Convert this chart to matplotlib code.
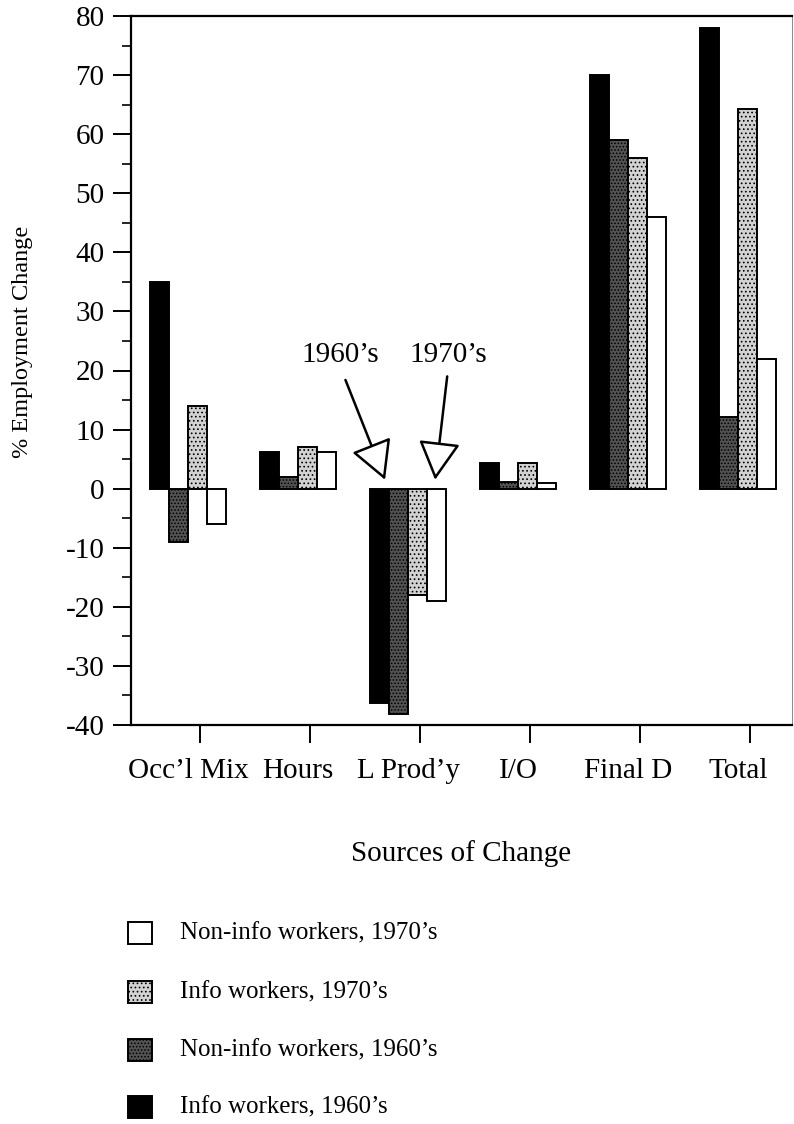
import matplotlib
matplotlib.use("Agg")
import matplotlib.pyplot as plt
from matplotlib.patches import Rectangle
import numpy as np

# data
sources = ["Occ\u2019l Mix", "Hours", "L Prod\u2019y", "I/O", "Final D", "Total"]
info_1960 = [35, 6.2, -36.2, 4.4, 70, 78]
noninfo_1960 = [-9, 2, -38.2, 1.2, 59, 12.2]
info_1970 = [14, 7, -18, 4.4, 56, 64.3]
noninfo_1970 = [-6, 6.2, -19, 0.9, 46, 22]

# (label, values, face colour, hatch)
series = [
    ("Info workers, 1960\u2019s", info_1960, "black", None),
    ("Non-info workers, 1960\u2019s", noninfo_1960, "#525252", "....."),
    ("Info workers, 1970\u2019s", info_1970, "#d2d2d2", "...."),
    ("Non-info workers, 1970\u2019s", noninfo_1970, "white", None),
]

plt.rcParams['font.family'] = ['Liberation Serif', 'DejaVu Serif']
plt.rcParams['axes.unicode_minus'] = False
plt.rcParams['hatch.linewidth'] = 0.7

W, H = 794, 1124
fig = plt.figure(figsize=(W / 100, H / 100), dpi=100)
ax = fig.add_axes([131 / W, 1 - 725 / H, (792 - 131) / W, (725 - 16) / H])

x = np.arange(len(sources))
bw = 0.172
for k, (label, vals, col, hatch) in enumerate(series):
    ax.bar(x + (k - 1.5) * bw, vals, bw, color=col, edgecolor="black",
           hatch=hatch, linewidth=1.4, zorder=2)

ax.set_xlim(-0.52, 5.49)
ax.set_ylim(-40, 80)
ax.set_yticks(np.arange(-40, 81, 10))
ax.set_yticks(np.arange(-35, 80, 10), minor=True)
ax.tick_params(axis='y', which='major', length=13, width=1.4, labelsize=21, pad=6)
ax.tick_params(axis='y', which='minor', length=6.5, width=1.2)

# labels at group centres, tick marks slightly to the right (as in the original)
ax.set_xticks(x)
ax.set_xticklabels(sources)
ax.tick_params(axis='x', which='major', length=0, labelsize=21, pad=24)
ax.set_xticks(x + 0.11, minor=True)
ax.tick_params(axis='x', which='minor', length=13, width=1.4)

for s in ["left", "bottom", "top"]:
    ax.spines[s].set_linewidth(1.6)
ax.spines["right"].set_linewidth(0.6)
ax.spines["right"].set_color("#777777")

ax.set_ylabel("% Employment Change", fontsize=17.5)
ax.yaxis.set_label_coords(-0.148, 0.54)
ax.set_xlabel("Sources of Change", fontsize=21, labelpad=40)

# decade arrows
arrow = dict(arrowstyle="-|>,head_length=1.1,head_width=0.6", mutation_scale=22,
             fc="white", ec="black", lw=1.8, shrinkA=0, shrinkB=0)
ax.annotate("", xy=(1.79, 1.5), xytext=(1.43, 18.4), arrowprops=arrow, zorder=3)
ax.annotate("", xy=(2.245, 1.5), xytext=(2.355, 19), arrowprops=arrow, zorder=3)
ax.text(1.38, 22.7, "1960\u2019s", fontsize=21, ha="center", va="center")
ax.text(2.36, 22.7, "1970\u2019s", fontsize=21, ha="center", va="center")

# legend, drawn below the plot
legend_y = [933, 992, 1050, 1107]
for (label, vals, col, hatch), yc in zip(series[::-1], legend_y):
    fig.add_artist(Rectangle((128 / W, 1 - (yc + 11) / H), 24 / W, 22 / H,
                             transform=fig.transFigure, facecolor=col, hatch=hatch,
                             edgecolor="black", linewidth=1.4))
    fig.text(180 / W, 1 - yc / H, label, fontsize=18, va="center", ha="left")

fig.savefig("out.png", dpi=100)
